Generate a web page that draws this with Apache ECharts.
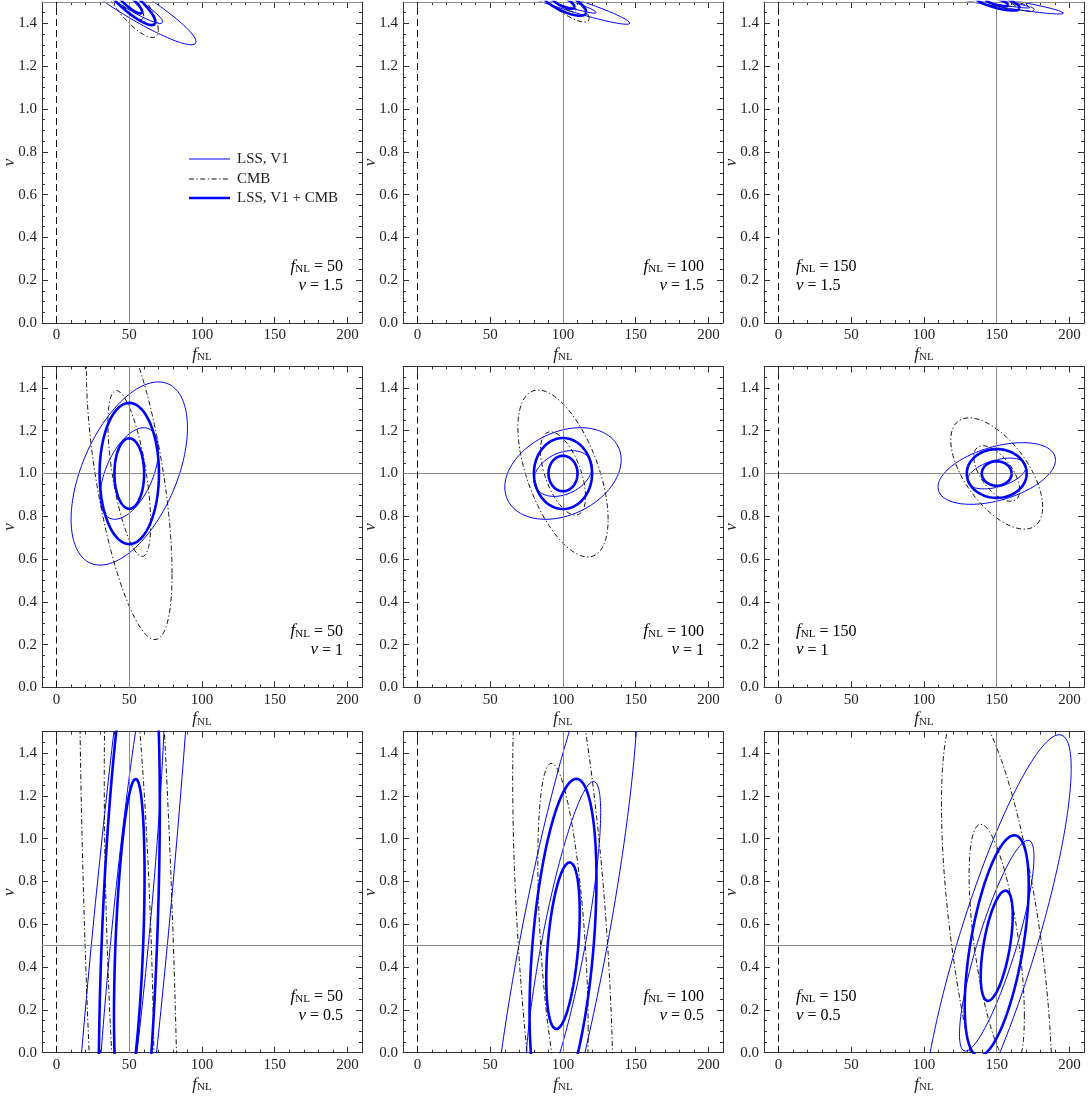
<!DOCTYPE html>
<html><head><meta charset="utf-8">
<script src="https://cdn.jsdelivr.net/npm/echarts@6/dist/echarts.min.js"></script>
<style>html,body{margin:0;padding:0;background:#fff}#c{width:1088px;height:1098px}</style>
</head><body><div id="c"></div>
<script>
// ---------------- data ----------------
const panelFNL = [50, 100, 150, 50, 100, 150, 50, 100, 150];
const panelNu  = [1.5, 1.5, 1.5, 1, 1, 1, 0.5, 0.5, 0.5];
const fNLTicks = [0, 50, 100, 150, 200];
const nuTicks  = [0, 0.2, 0.4, 0.6, 0.8, 1.0, 1.2, 1.4];
const contourScale = [1, 2];           // 1-sigma and 2-sigma contours
// 1-sigma ellipses per panel: [half-width in fNL, half-height in nu, correlation]
const lssV1 = [
  [23, 0.100, -0.93], [23, 0.052, -0.95], [23, 0.028, -0.93],
  [20, 0.214, 0.50],  [20, 0.107, 0.30],  [20.2, 0.072, 0.44],
  [24.8, 1.50, 0.85], [25.9, 0.768, 0.81], [25.6, 0.493, 0.84]
];
const cmb = [
  [10, 0.083, -0.80], [9, 0.047, -0.83], [13, 0.021, -0.85],
  [14.7, 0.388, -0.60], [15.5, 0.195, -0.55], [15.8, 0.130, -0.60],
  [17.2, 1.67, -0.47], [17.3, 0.853, -0.46], [19, 0.568, -0.58]
];
const lssV1Cmb = [
  [9, 0.054, -0.87], [8, 0.032, -0.73], [8, 0.020, -0.70],
  [10.2, 0.165, 0], [10, 0.083, 0], [10.3, 0.057, 0],
  [10.5, 0.78, 0.42], [11.5, 0.39, 0.40], [11, 0.258, 0.55]
];
const legendNames = ['LSS, V1', 'CMB', 'LSS, V1 + CMB'];

// ---------------- layout / style ----------------
const colLeft = [42, 403, 764], rowTop = [2, 366.5, 731.7], W = 320, H = 321;
const SERIF = '"Liberation Serif","Times New Roman",serif';
const FRAME = '#333';
const BLUE = '#0000ff';
const styles = [
  {color: BLUE, width: 1, type: 'solid'},
  {color: '#111', width: 1, type: [5, 2.5, 1.3, 2.5]},
  {color: BLUE, width: 2.6, type: 'solid'}
];
const datasets = [lssV1, cmb, lssV1Cmb];

function ellipsePoints(cx, cy, p, k) {
  const [sx, sy, r] = p, q = Math.sqrt(1 - r * r), pts = [];
  const N = 360;
  for (let i = 0; i <= N; i++) {
    const t = 2 * Math.PI * i / N;
    pts.push([cx + k * sx * Math.cos(t), cy + k * sy * (r * Math.cos(t) + q * Math.sin(t))]);
  }
  return pts;
}

const grid = [], xAxis = [], yAxis = [], series = [], graphic = [];
const richName = {
  i: {fontFamily: SERIF, fontStyle: 'italic', fontSize: 17, color: '#222', verticalAlign: 'bottom', lineHeight: 18},
  s: {fontFamily: SERIF, fontSize: 11, color: '#222', verticalAlign: 'bottom', lineHeight: 10},
  n: {fontFamily: SERIF, fontSize: 16, color: '#222', verticalAlign: 'bottom', lineHeight: 18}
};

for (let p = 0; p < 9; p++) {
  const r = Math.floor(p / 3), c = p % 3;
  grid.push({left: colLeft[c], top: rowTop[r], width: W, height: H, containLabel: false, outerBoundsMode: 'none'});
  const common = {type: 'value', gridIndex: p, splitLine: {show: false}};
  const line = {show: true, onZero: false, lineStyle: {color: FRAME, width: 1}};
  const noLine = {show: false, onZero: false};
  // x axes
  xAxis.push(Object.assign({}, common, {
    position: 'bottom', min: -10, max: 210, axisLine: line,
    axisTick: {show: true, inside: true, length: 6, customValues: fNLTicks, lineStyle: {color: FRAME}},
    axisLabel: {show: true, customValues: fNLTicks, fontFamily: SERIF, fontSize: 15, color: '#222', margin: 5},
    name: '{i|f}{s|NL}', nameLocation: 'middle', nameGap: 22, nameMoveOverlap: false,
    nameTextStyle: {rich: richName}
  }));
  xAxis.push(Object.assign({}, common, {
    position: 'bottom', min: -10, max: 210, interval: 10, axisLine: noLine,
    axisTick: {show: true, inside: true, length: 3, lineStyle: {color: FRAME}}, axisLabel: {show: false}
  }));
  xAxis.push(Object.assign({}, common, {
    position: 'top', min: -10, max: 210, axisLine: line,
    axisTick: {show: true, inside: true, length: 6, customValues: fNLTicks, lineStyle: {color: FRAME}},
    axisLabel: {show: false}
  }));
  xAxis.push(Object.assign({}, common, {
    position: 'top', min: -10, max: 210, interval: 10, axisLine: noLine,
    axisTick: {show: true, inside: true, length: 3, lineStyle: {color: FRAME}}, axisLabel: {show: false}
  }));
  // y axes
  yAxis.push(Object.assign({}, common, {
    position: 'left', min: 0, max: 1.5, axisLine: line,
    axisTick: {show: true, inside: true, length: 6, customValues: nuTicks, lineStyle: {color: FRAME}},
    axisLabel: {show: true, customValues: nuTicks, fontFamily: SERIF, fontSize: 15, color: '#222', margin: 5,
      formatter: v => Number(v).toFixed(1)}
  }));
  yAxis.push(Object.assign({}, common, {
    position: 'left', min: 0, max: 1.5, interval: 0.05, axisLine: noLine,
    axisTick: {show: true, inside: true, length: 3, lineStyle: {color: FRAME}}, axisLabel: {show: false}
  }));
  yAxis.push(Object.assign({}, common, {
    position: 'right', min: 0, max: 1.5, axisLine: line,
    axisTick: {show: true, inside: true, length: 6, customValues: nuTicks, lineStyle: {color: FRAME}},
    axisLabel: {show: false}
  }));
  yAxis.push(Object.assign({}, common, {
    position: 'right', min: 0, max: 1.5, interval: 0.05, axisLine: noLine,
    axisTick: {show: true, inside: true, length: 3, lineStyle: {color: FRAME}}, axisLabel: {show: false}
  }));

  // y-axis title (rotated)
  graphic.push({
    type: 'text', silent: true, z: 100,
    x: colLeft[c] - 32, y: rowTop[r] + H / 2, rotation: Math.PI / 2,
    style: {text: 'ν', font: 'italic 17px ' + SERIF, fill: '#222',
      align: 'center', textAlign: 'center', verticalAlign: 'middle', textVerticalAlign: 'middle'}
  });

  const xi = 4 * p, yi = 4 * p;
  const fx = panelFNL[p], fy = panelNu[p];
  // reference lines
  series.push({
    type: 'line', xAxisIndex: xi, yAxisIndex: yi, data: [], silent: true, z: 1,
    markLine: {
      silent: true, symbol: 'none', animation: false, label: {show: false},
      data: [
        {xAxis: fx, lineStyle: {color: '#8c8c8c', width: 1, type: 'solid'}},
        {yAxis: fy, lineStyle: {color: '#8c8c8c', width: 1, type: 'solid'}},
        {xAxis: 0, lineStyle: {color: '#111', width: 1, type: [7, 4]}}
      ]
    }
  });
  // contours
  datasets.forEach((ds, d) => {
    contourScale.forEach(k => {
      series.push({
        type: 'line', name: legendNames[d], xAxisIndex: xi, yAxisIndex: yi,
        data: ellipsePoints(fx, fy, ds[p], k), showSymbol: false, symbol: 'none',
        smooth: false, clip: true, silent: true, z: 3 + d,
        lineStyle: {color: styles[d].color, width: styles[d].width, type: styles[d].type}
      });
    });
  });

  // annotation
  const bottom = rowTop[r] + H;
  const right = c < 2;
  const ax = right ? colLeft[c] + W - 19 : colLeft[c] + 32;
  const align = right ? 'right' : 'left';
  graphic.push({
    type: 'text', silent: true, z: 100,
    style: {
      text: '{i|f}{s|NL}{n| = ' + fx + '}', rich: richName,
      x: ax, y: bottom - 48, align: align, textAlign: align,
      verticalAlign: 'bottom', textVerticalAlign: 'bottom'
    }
  });
  graphic.push({
    type: 'text', silent: true, z: 100,
    style: {
      text: '{i|ν}{n| = ' + fy + '}', rich: richName,
      x: ax, y: bottom - 29, align: align, textAlign: align,
      verticalAlign: 'bottom', textVerticalAlign: 'bottom'
    }
  });
}

// legend in first panel
const legY = [159, 179, 198];
legendNames.forEach((nm, d) => {
  graphic.push({
    type: 'line', silent: true, z: 100,
    shape: {x1: 189, y1: legY[d], x2: 230, y2: legY[d]},
    style: {stroke: styles[d].color, lineWidth: styles[d].width,
      lineDash: Array.isArray(styles[d].type) ? styles[d].type : null}
  });
  graphic.push({
    type: 'text', silent: true, z: 100,
    style: {text: nm, x: 237, y: legY[d], font: '15px ' + SERIF, fill: '#222',
      textVerticalAlign: 'middle', verticalAlign: 'middle'}
  });
});

const chart = echarts.init(document.getElementById('c'), null, {renderer: 'canvas'});
chart.setOption({
  animation: false,
  backgroundColor: '#fff',
  grid, xAxis, yAxis, series, graphic
});
</script>
</body></html>
